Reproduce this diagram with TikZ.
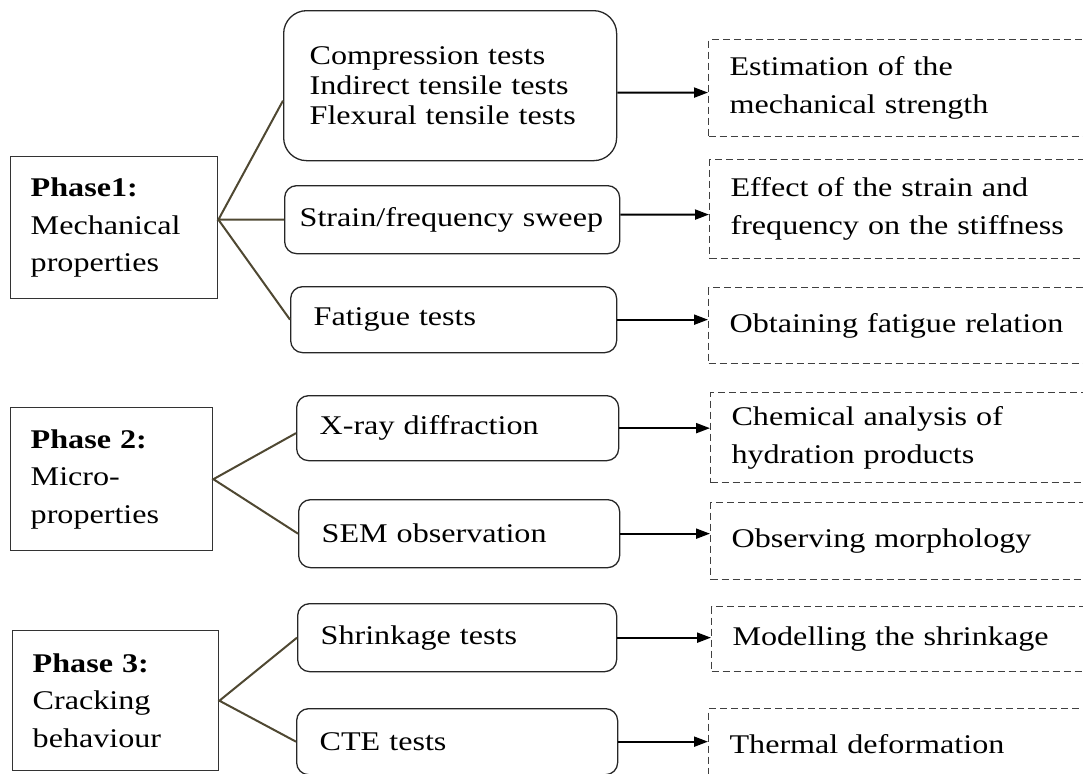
\documentclass[tikz,border=0pt]{standalone}
\usepackage{fontspec}
\setmainfont{Liberation Serif}[FakeStretch=1.19]
\usetikzlibrary{arrows.meta,calc}
\definecolor{linkcol}{HTML}{4F4832}

\begin{document}
\begin{tikzpicture}[x=0.5pt, y=-0.5pt,
  font=\fontsize{13.5}{15}\selectfont,
  phase/.style={rectangle, draw=black!80, line width=0.7pt, anchor=north west,
                align=left, inner xsep=10pt, font=\fontsize{13.5}{18.8}\selectfont},
  test/.style={rectangle, rounded corners=6pt, draw=black!85, line width=0.65pt,
               anchor=north west, align=left, inner xsep=11.5pt},
  res/.style={rectangle, draw=black!75, dash pattern=on 3.5pt off 2pt,
              line width=0.55pt, anchor=north west, align=left, inner xsep=10.5pt,
              text width=174.5pt, font=\fontsize{13.5}{19}\selectfont},
  link/.style={draw=linkcol, line width=1pt},
  arr/.style={-{Triangle[length=7pt,width=5pt]}, line width=1pt}]
\useasboundingbox (0,0) rectangle (1083,773);
\clip (0,0) rectangle (1083,773);
\node[phase, text width=83.5pt, minimum height=71pt] (ph1) at (10,156)
  {\textbf{Phase1:}\\ Mechanical\\ properties};
\node[phase, text width=81pt, minimum height=71.5pt] (ph2) at (10,407)
  {\textbf{Phase 2:}\\ Micro-\\ properties};
\node[phase, text width=83pt, minimum height=70pt] (ph3) at (12,630)
  {\textbf{Phase 3:}\\ Cracking\\ behaviour};
\node[test, rounded corners=11.5pt, inner xsep=13pt, text width=140.5pt,
      minimum height=75pt] (bA) at (283,10)
  {Compression tests\\ Indirect tensile tests\\ Flexural tensile tests};
\node[test, inner xsep=7.5pt, text width=152.5pt, minimum height=34pt] (bB) at (284,185)
  {Strain/frequency sweep};
\node[test, text width=140pt, minimum height=33pt] (bC) at (290,286) {Fatigue tests};
\node[test, text width=138pt, minimum height=32.5pt] (bX) at (296,395) {X-ray diffraction};
\node[test, text width=137.5pt, minimum height=34pt] (bS) at (298,499) {SEM observation};
\node[test, text width=136.5pt, minimum height=34pt] (bSh) at (297,603) {Shrinkage tests};
\node[test, text width=137.5pt, minimum height=33pt] (bT) at (296,708) {CTE tests};
\node[res, minimum height=48.5pt] (dA) at (708,39) {Estimation of the\\ mechanical strength};
\node[res, minimum height=49.5pt] (dB) at (709,159)
  {Effect of the strain and\\ frequency on the stiffness};
\node[res, minimum height=38pt] (dC) at (708,287) {Obtaining fatigue relation};
\node[res, minimum height=45pt] (dX) at (710,392) {Chemical analysis of\\ hydration products};
\node[res, minimum height=38.5pt] (dS) at (710,502) {Observing morphology};
\node[res, minimum height=32.5pt] (dSh) at (711,606) {Modelling the shrinkage};
\node[res, minimum height=36pt] (dT) at (708,708) {Thermal deformation};
\coordinate (h1) at (ph1.east |- bB.west);
\draw[link] ($(bA.west)+(0,15)$) -- (h1) -- (bB.west);
\draw[link] (h1) -- (bC.west);
\draw[link] ($(bX.west)+(0,5)$) -- (ph2.east) -- (bS.west);
\draw[link] (bSh.west) -- (ph3.east) -- (bT.west);
\draw[arr] ($(bA.east)+(0,7)$) -- ($(dA.west)+(0,4.5)$);
\draw[arr] ($(bB.east)+(0,-5)$) -- ($(dB.west)+(0,5.5)$);
\draw[arr] (bC.east) -- (bC.east -| dC.west);
\draw[arr] (bX.east) -- (bX.east -| dX.west);
\draw[arr] (bS.east) -- (bS.east -| dS.west);
\draw[arr] (bSh.east) -- (bSh.east -| dSh.west);
\draw[arr] (bT.east) -- (bT.east -| dT.west);
\end{tikzpicture}
\end{document}
